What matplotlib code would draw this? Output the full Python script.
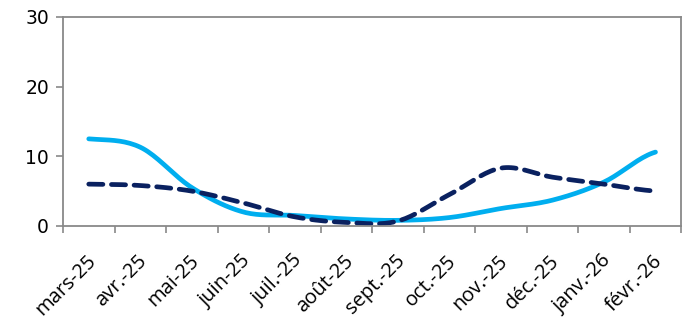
import numpy as np
import matplotlib
matplotlib.use("Agg")
import matplotlib.pyplot as plt
import matplotlib.transforms as mtransforms

months = ['mars-25', 'avr.-25', 'mai-25', 'juin-25', 'juil.-25', 'août-25',
          'sept.-25', 'oct.-25', 'nov.-25', 'déc.-25', 'janv.-26', 'févr.-26']
serie_claire = [12.5, 11.3, 5.5, 2.0, 1.5, 1.0, 0.8, 1.2, 2.5, 3.7, 6.3, 10.6]
serie_foncee = [6.0, 5.8, 5.0, 3.3, 1.3, 0.5, 0.7, 4.5, 8.3, 7.0, 6.0, 5.0]

plt.rcParams['font.family'] = ['Open Sans', 'DejaVu Sans']


def smooth(y, n=20):
    # courbe lissée façon Excel (Catmull-Rom) entre les points
    y = np.asarray(y, dtype=float)
    p = np.concatenate([[y[0]], y, [y[-1]]])
    xs, ys = [], []
    for i in range(len(y) - 1):
        p0, p1, p2, p3 = p[i], p[i + 1], p[i + 2], p[i + 3]
        t = np.linspace(0, 1, n, endpoint=False)
        yy = 0.5 * ((2 * p1) + (-p0 + p2) * t + (2 * p0 - 5 * p1 + 4 * p2 - p3) * t ** 2
                    + (-p0 + 3 * p1 - 3 * p2 + p3) * t ** 3)
        xs.extend(i + t)
        ys.extend(yy)
    xs.append(len(y) - 1)
    ys.append(y[-1])
    return np.array(xs), np.array(ys)


fig = plt.figure(figsize=(6.9, 3.2), dpi=100)
ax = fig.add_axes([0.0913, 0.294, 0.896, 0.653])

x1, y1 = smooth(serie_claire)
x2, y2 = smooth(serie_foncee)
ax.plot(x1, y1, color='#00AEEF', lw=3.4, solid_capstyle='round')
ax.plot(x2, y2, color='#0A2160', lw=3.4, dashes=(3, 1.8), dash_capstyle='round')

ax.set_xlim(-0.5, len(months) - 0.5)
ax.set_ylim(0, 30)
ax.set_yticks([0, 10, 20, 30])
ax.set_yticklabels(['0', '10', '20', '30'], family='DejaVu Sans', fontsize=13.5)
ax.set_xticks(np.arange(-0.5, len(months)), minor=False)
ax.set_xticklabels([])
ax.set_xticks(np.arange(len(months)), minor=True)
ax.set_xticklabels(months, minor=True, rotation=45, ha='right', rotation_mode='anchor', fontsize=14.5)
ax.tick_params(axis='x', which='minor', length=0, pad=8)
ax.tick_params(axis='x', which='major', length=5, color='#898989', width=1.2)
ax.tick_params(axis='y', length=5, color='#898989', width=1.2, pad=5)

# décalage des étiquettes comme dans Excel
offset = mtransforms.ScaledTranslation(-3 / 100, -14 / 100, fig.dpi_scale_trans)
for lab in ax.get_xticklabels(minor=True):
    lab.set_transform(lab.get_transform() + offset)

for s in ax.spines.values():
    s.set_color('#898989')
    s.set_linewidth(1.3)

fig.savefig('out.png', dpi=100)
